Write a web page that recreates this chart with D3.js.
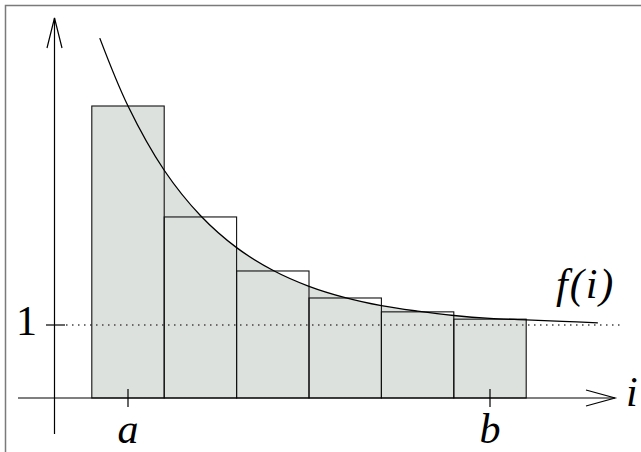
<!DOCTYPE html>
<html>
<head>
<meta charset="utf-8">
<script src="https://cdn.jsdelivr.net/npm/d3@7"></script>
<style>
  html, body { margin: 0; padding: 0; background: #fff; }
  svg { display: block; }
</style>
</head>
<body>
<svg id="chart" width="641" height="452"></svg>
<script>
// Bars: index i (a = 0 ... b = 5) and the height f(i) of each bar
const barIndex = [0, 1, 2, 3, 4, 5];
const barValues = [4.0, 2.48, 1.74, 1.37, 1.18, 1.08];

// Sampled points of the smooth curve f(i)
const curveI = [-0.39, 0, 0.5, 1, 1.5, 2, 2.5, 3, 3.5, 4, 4.5, 5, 5.5, 6, 6.49];
const curveF = [4.93, 4.0, 3.12, 2.5, 2.06, 1.75, 1.53, 1.375, 1.265, 1.19, 1.13, 1.09, 1.07, 1.05, 1.03];

// Axis labels
const xTickValues = [0, 5];
const xTickLabels = ["a", "b"];
const yTickValues = [1];
const yTickLabels = ["1"];

const FONT = "'Liberation Serif', 'Times New Roman', Times, 'Nimbus Roman', 'DejaVu Serif', serif";

const svg = d3.select("#chart");

const x = d3.scaleLinear().domain([0, 5]).range([128, 490]);
const y = d3.scaleLinear().domain([0, 1]).range([398, 325]);
const halfW = (x(1) - x(0)) / 2;

const curvePts = curveI.map((v, k) => [v, curveF[k]]);
const line = d3.line().x(d => x(d[0])).y(d => y(d[1])).curve(d3.curveCatmullRom.alpha(0.5));

// Frame (left and top edges)
svg.append("path")
  .attr("d", "M5.5,452 L5.5,5.5 L641,5.5")
  .attr("fill", "none").attr("stroke", "#7a7a7a").attr("stroke-width", 1.5);

// Shaded region: the first bar plus the area under the curve over the remaining bars
const fill = "#dde1de";
svg.append("rect")
  .attr("x", x(barIndex[0]) - halfW).attr("width", 2 * halfW)
  .attr("y", y(barValues[0])).attr("height", y(0) - y(barValues[0]))
  .attr("fill", fill);

const underPts = curvePts.filter(d => d[0] >= 0.5 && d[0] <= 5.5);
const area = d3.area()
  .x(d => x(d[0])).y0(y(0)).y1(d => y(d[1]))
  .curve(d3.curveCatmullRom.alpha(0.5));
svg.append("path").datum(underPts).attr("d", area).attr("fill", fill);

// Level line at f = 1
svg.append("line")
  .attr("x1", 66).attr("x2", 622)
  .attr("y1", y(1)).attr("y2", y(1))
  .attr("stroke", "#444").attr("stroke-width", 1.3)
  .attr("stroke-dasharray", "1.5,4.5");

// Bar outlines
svg.selectAll("rect.bar").data(barIndex).join("rect")
  .attr("class", "bar")
  .attr("x", d => x(d) - halfW)
  .attr("width", 2 * halfW)
  .attr("y", (d, k) => y(barValues[k]))
  .attr("height", (d, k) => y(0) - y(barValues[k]))
  .attr("fill", "none").attr("stroke", "#111").attr("stroke-width", 1.1);

// Curve f(i)
svg.append("path").datum(curvePts).attr("d", line)
  .attr("fill", "none").attr("stroke", "#000").attr("stroke-width", 1.3);

// Axes with open arrowheads
const ax = svg.append("g").attr("stroke", "#000").attr("stroke-width", 1.2).attr("fill", "none");
ax.append("line").attr("x1", 54.5).attr("x2", 54.5).attr("y1", 18).attr("y2", 434);
ax.append("path").attr("d", "M47,48 L54.5,18 L62,48");
ax.append("line").attr("x1", 18).attr("x2", 615).attr("y1", y(0)).attr("y2", y(0));
ax.append("path").attr("d", `M586,${y(0) - 8} L615,${y(0)} L586,${y(0) + 8}`);

// Ticks crossing the axes
ax.selectAll("line.xt").data(xTickValues).join("line")
  .attr("x1", d => x(d)).attr("x2", d => x(d))
  .attr("y1", y(0) - 9).attr("y2", y(0) + 9);
ax.selectAll("line.yt").data(yTickValues).join("line")
  .attr("x1", 46).attr("x2", 65)
  .attr("y1", d => y(d)).attr("y2", d => y(d));

// Labels
function label(sel, italic) {
  return sel.attr("font-family", FONT).attr("font-size", 42)
    .attr("font-style", italic ? "italic" : "normal").attr("fill", "#000");
}
label(svg.selectAll("text.xl").data(xTickValues).join("text"), true)
  .attr("class", "xl")
  .attr("x", d => x(d)).attr("y", 443)
  .attr("text-anchor", "middle")
  .text((d, k) => xTickLabels[k]);
label(svg.selectAll("text.yl").data(yTickValues).join("text"), false)
  .attr("class", "yl")
  .attr("x", 37).attr("y", d => y(d) + 10)
  .attr("text-anchor", "end")
  .text((d, k) => yTickLabels[k]);
label(svg.append("text"), true)
  .attr("x", 626).attr("y", 406).text("i");
label(svg.append("text"), true)
  .attr("x", 556).attr("y", 298)
  .attr("letter-spacing", 2)
  .text("f(i)");
</script>
</body>
</html>
